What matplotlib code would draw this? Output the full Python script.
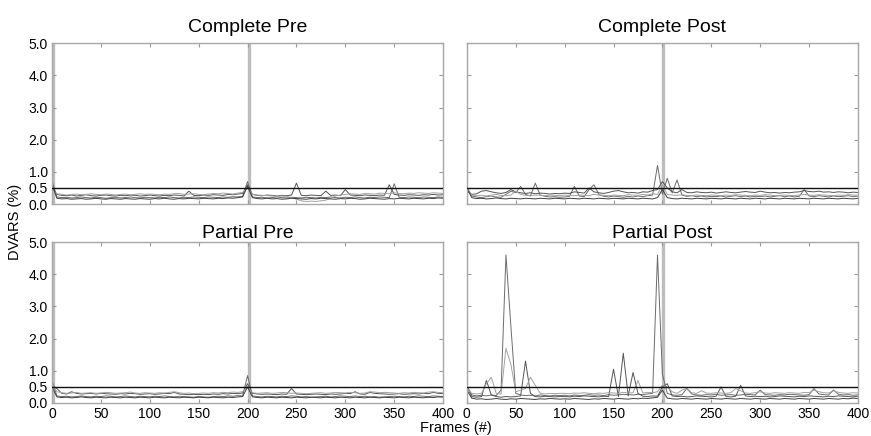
import matplotlib
matplotlib.use("Agg")
import matplotlib.pyplot as plt

# frame index of each sample (every 5th frame of the 400-frame scan)
frames = list(range(0, 401, 5))

# DVARS (%) per subject
complete_pre = [
    [0.72, 0.22, 0.2, 0.21, 0.19, 0.2, 0.22, 0.2, 0.19, 0.21, 0.2, 0.18, 0.2, 0.21, 0.19, 0.2, 0.22, 0.2, 0.19, 0.21,
     0.2, 0.19, 0.21, 0.2, 0.22, 0.2, 0.19, 0.21, 0.2, 0.22, 0.21, 0.2, 0.22, 0.21, 0.2, 0.22, 0.21, 0.23, 0.22, 0.24,
     0.7, 0.22, 0.2, 0.21, 0.19, 0.2, 0.22, 0.2, 0.19, 0.21, 0.2, 0.19, 0.21, 0.2, 0.19, 0.21, 0.2, 0.22, 0.2, 0.19,
     0.21, 0.2, 0.22, 0.2, 0.19, 0.21, 0.2, 0.22, 0.21, 0.2, 0.63, 0.21, 0.2, 0.22, 0.21, 0.2, 0.22, 0.21, 0.2, 0.22, 0.21],
    [0.55, 0.3, 0.27, 0.26, 0.28, 0.25, 0.27, 0.29, 0.26, 0.25, 0.27, 0.28, 0.26, 0.25, 0.27, 0.26, 0.28, 0.27, 0.25, 0.26,
     0.28, 0.26, 0.25, 0.27, 0.26, 0.28, 0.27, 0.25, 0.4, 0.27, 0.26, 0.28, 0.27, 0.29, 0.28, 0.27, 0.3, 0.29, 0.31, 0.33,
     0.6, 0.3, 0.27, 0.26, 0.28, 0.27, 0.25, 0.27, 0.26, 0.28, 0.65, 0.27, 0.26, 0.28, 0.27, 0.26, 0.4, 0.27, 0.28, 0.26,
     0.45, 0.28, 0.27, 0.26, 0.28, 0.27, 0.26, 0.28, 0.27, 0.6, 0.3, 0.28, 0.27, 0.29, 0.28, 0.27, 0.29, 0.28, 0.3, 0.28, 0.29],
    [0.45, 0.32, 0.3, 0.28, 0.3, 0.31, 0.29, 0.3, 0.32, 0.3, 0.29, 0.31, 0.3, 0.28, 0.3, 0.31, 0.29, 0.3, 0.32, 0.3,
     0.31, 0.3, 0.29, 0.31, 0.3, 0.32, 0.33, 0.3, 0.31, 0.32, 0.3, 0.29, 0.31, 0.33, 0.32, 0.34, 0.33, 0.31, 0.34, 0.36,
     0.5, 0.3, 0.28, 0.27, 0.26, 0.25, 0.24, 0.25, 0.24, 0.2, 0.15, 0.1, 0.08, 0.09, 0.08, 0.1, 0.12, 0.18, 0.25, 0.28,
     0.3, 0.32, 0.31, 0.3, 0.33, 0.32, 0.31, 0.34, 0.33, 0.32, 0.35, 0.33, 0.32, 0.34, 0.33, 0.35, 0.34, 0.33, 0.35, 0.34, 0.33],
    [0.6, 0.18, 0.16, 0.17, 0.15, 0.16, 0.17, 0.15, 0.16, 0.18, 0.16, 0.15, 0.17, 0.16, 0.15, 0.17, 0.16, 0.15, 0.17, 0.16,
     0.15, 0.17, 0.16, 0.18, 0.16, 0.15, 0.17, 0.16, 0.18, 0.17, 0.16, 0.18, 0.17, 0.16, 0.18, 0.17, 0.19, 0.18, 0.2, 0.22,
     0.55, 0.2, 0.17, 0.16, 0.18, 0.16, 0.17, 0.15, 0.16, 0.18, 0.17, 0.16, 0.15, 0.17, 0.16, 0.18, 0.17, 0.16, 0.15, 0.17,
     0.16, 0.18, 0.17, 0.15, 0.16, 0.18, 0.17, 0.16, 0.15, 0.17, 0.16, 0.18, 0.17, 0.16, 0.18, 0.17, 0.16, 0.18, 0.17, 0.19, 0.18],
]

complete_post = [
    [0.55, 0.25, 0.22, 0.2, 0.23, 0.25, 0.22, 0.21, 0.3, 0.4, 0.35, 0.55, 0.3, 0.25, 0.65, 0.28, 0.24, 0.22, 0.23, 0.21,
     0.22, 0.24, 0.55, 0.25, 0.23, 0.45, 0.6, 0.3, 0.24, 0.22, 0.25, 0.23, 0.21, 0.24, 0.22, 0.25, 0.23, 0.26, 0.28, 1.2,
     0.3, 0.8, 0.35, 0.75, 0.28, 0.24, 0.26, 0.23, 0.25, 0.22, 0.24, 0.23, 0.25, 0.22, 0.24, 0.26, 0.23, 0.25, 0.22, 0.24,
     0.23, 0.25, 0.22, 0.24, 0.26, 0.23, 0.25, 0.22, 0.24, 0.45, 0.25, 0.23, 0.26, 0.24, 0.22, 0.25, 0.23, 0.24, 0.26, 0.23, 0.25],
    [0.4, 0.3, 0.32, 0.4, 0.42, 0.38, 0.35, 0.33, 0.36, 0.45, 0.38, 0.35, 0.33, 0.35, 0.32, 0.34, 0.33, 0.31, 0.33, 0.32,
     0.34, 0.33, 0.38, 0.36, 0.34, 0.5, 0.38, 0.35, 0.33, 0.36, 0.4, 0.42, 0.38, 0.35, 0.36, 0.34, 0.38, 0.37, 0.42, 0.45,
     0.7, 0.5, 0.38, 0.35, 0.45, 0.36, 0.35, 0.38, 0.36, 0.35, 0.37, 0.34, 0.36, 0.38, 0.36, 0.35, 0.37, 0.39, 0.37, 0.36,
     0.4, 0.37, 0.35, 0.36, 0.34, 0.36, 0.35, 0.37, 0.38, 0.42, 0.39, 0.38, 0.4, 0.37, 0.38, 0.36, 0.38, 0.37, 0.35, 0.37, 0.36],
    [0.5, 0.28, 0.26, 0.27, 0.25, 0.28, 0.3, 0.27, 0.26, 0.28, 0.4, 0.3, 0.27, 0.26, 0.28, 0.27, 0.26, 0.28, 0.27, 0.26,
     0.28, 0.27, 0.26, 0.28, 0.27, 0.26, 0.3, 0.28, 0.27, 0.26, 0.28, 0.27, 0.26, 0.29, 0.28, 0.27, 0.3, 0.28, 0.32, 0.3,
     0.6, 0.3, 0.28, 0.27, 0.29, 0.27, 0.26, 0.28, 0.27, 0.26, 0.28, 0.27, 0.26, 0.28, 0.27, 0.29, 0.28, 0.27, 0.26, 0.28,
     0.27, 0.29, 0.28, 0.26, 0.27, 0.28, 0.27, 0.26, 0.28, 0.3, 0.28, 0.27, 0.29, 0.28, 0.27, 0.26, 0.28, 0.27, 0.29, 0.28, 0.27],
    [0.5, 0.2, 0.17, 0.18, 0.16, 0.17, 0.19, 0.17, 0.16, 0.18, 0.17, 0.16, 0.18, 0.17, 0.16, 0.18, 0.17, 0.16, 0.18, 0.17,
     0.16, 0.18, 0.17, 0.16, 0.18, 0.17, 0.16, 0.18, 0.17, 0.16, 0.18, 0.17, 0.16, 0.18, 0.17, 0.16, 0.18, 0.17, 0.16, 0.2,
     0.45, 0.2, 0.17, 0.16, 0.18, 0.17, 0.16, 0.18, 0.17, 0.16, 0.18, 0.17, 0.16, 0.18, 0.17, 0.16, 0.18, 0.17, 0.16, 0.18,
     0.17, 0.16, 0.18, 0.17, 0.16, 0.18, 0.17, 0.16, 0.18, 0.17, 0.16, 0.18, 0.17, 0.16, 0.18, 0.17, 0.16, 0.18, 0.17, 0.16, 0.18],
]

partial_pre = [
    [0.7, 0.22, 0.2, 0.21, 0.19, 0.2, 0.22, 0.2, 0.19, 0.21, 0.2, 0.22, 0.21, 0.19, 0.2, 0.22, 0.2, 0.19, 0.21, 0.2,
     0.19, 0.21, 0.2, 0.22, 0.2, 0.19, 0.21, 0.2, 0.19, 0.18, 0.2, 0.19, 0.18, 0.2, 0.21, 0.2, 0.22, 0.21, 0.23, 0.22,
     0.85, 0.22, 0.2, 0.19, 0.21, 0.2, 0.19, 0.21, 0.2, 0.22, 0.21, 0.19, 0.2, 0.18, 0.19, 0.2, 0.21, 0.19, 0.2, 0.22,
     0.21, 0.2, 0.22, 0.2, 0.21, 0.19, 0.2, 0.18, 0.19, 0.2, 0.21, 0.2, 0.19, 0.21, 0.2, 0.22, 0.21, 0.2, 0.22, 0.21, 0.2],
    [0.55, 0.45, 0.3, 0.28, 0.35, 0.3, 0.28, 0.29, 0.3, 0.28, 0.3, 0.29, 0.28, 0.27, 0.29, 0.28, 0.3, 0.29, 0.27, 0.28,
     0.29, 0.27, 0.28, 0.3, 0.29, 0.33, 0.28, 0.27, 0.26, 0.27, 0.26, 0.27, 0.26, 0.28, 0.27, 0.29, 0.28, 0.3, 0.29, 0.31,
     0.6, 0.3, 0.28, 0.27, 0.28, 0.27, 0.26, 0.28, 0.27, 0.45, 0.28, 0.27, 0.26, 0.27, 0.28, 0.27, 0.26, 0.28, 0.27, 0.28,
     0.3, 0.29, 0.35, 0.28, 0.27, 0.33, 0.3, 0.29, 0.28, 0.27, 0.28, 0.29, 0.27, 0.28, 0.29, 0.28, 0.3, 0.29, 0.33, 0.3, 0.29],
    [0.6, 0.35, 0.32, 0.3, 0.31, 0.33, 0.3, 0.31, 0.32, 0.3, 0.31, 0.33, 0.32, 0.3, 0.31, 0.32, 0.34, 0.31, 0.3, 0.32,
     0.31, 0.3, 0.32, 0.31, 0.33, 0.35, 0.32, 0.3, 0.31, 0.29, 0.3, 0.31, 0.3, 0.32, 0.31, 0.33, 0.32, 0.34, 0.33, 0.35,
     0.5, 0.32, 0.3, 0.31, 0.32, 0.3, 0.31, 0.33, 0.32, 0.3, 0.31, 0.3, 0.29, 0.3, 0.31, 0.32, 0.3, 0.31, 0.33, 0.32,
     0.31, 0.33, 0.32, 0.3, 0.31, 0.35, 0.34, 0.32, 0.33, 0.32, 0.31, 0.3, 0.32, 0.31, 0.33, 0.32, 0.31, 0.34, 0.35, 0.33, 0.32],
    [0.5, 0.19, 0.17, 0.18, 0.16, 0.17, 0.19, 0.17, 0.16, 0.18, 0.17, 0.16, 0.18, 0.17, 0.16, 0.18, 0.17, 0.16, 0.18, 0.17,
     0.16, 0.18, 0.17, 0.16, 0.18, 0.17, 0.16, 0.18, 0.17, 0.16, 0.18, 0.17, 0.16, 0.18, 0.17, 0.16, 0.18, 0.17, 0.19, 0.2,
     0.5, 0.19, 0.17, 0.16, 0.18, 0.17, 0.16, 0.18, 0.17, 0.16, 0.18, 0.17, 0.16, 0.18, 0.17, 0.16, 0.18, 0.17, 0.16, 0.18,
     0.17, 0.16, 0.18, 0.17, 0.16, 0.18, 0.17, 0.16, 0.18, 0.17, 0.16, 0.18, 0.17, 0.16, 0.18, 0.17, 0.16, 0.18, 0.17, 0.19, 0.18],
]

partial_post = [
    [0.55, 0.25, 0.22, 0.24, 0.22, 0.25, 0.23, 0.4, 4.6, 2.4, 0.3, 0.25, 0.23, 0.24, 0.22, 0.25, 0.23, 0.22, 0.24, 0.23,
     0.24, 0.22, 0.25, 0.23, 0.24, 0.26, 0.24, 0.25, 0.23, 0.26, 0.24, 0.25, 0.27, 0.26, 0.25, 0.27, 0.26, 0.28, 0.3, 4.6,
     0.9, 0.3, 0.25, 0.24, 0.26, 0.45, 0.28, 0.25, 0.24, 0.26, 0.25, 0.27, 0.24, 0.25, 0.26, 0.24, 0.25, 0.27, 0.26, 0.25,
     0.4, 0.26, 0.25, 0.24, 0.26, 0.25, 0.27, 0.26, 0.25, 0.24, 0.26, 0.45, 0.28, 0.26, 0.25, 0.4, 0.27, 0.25, 0.26, 0.24, 0.25],
    [0.5, 0.2, 0.18, 0.2, 0.7, 0.25, 0.2, 0.18, 0.2, 0.19, 0.2, 0.22, 1.3, 0.3, 0.2, 0.19, 0.21, 0.2, 0.19, 0.2,
     0.2, 0.19, 0.21, 0.2, 0.22, 0.21, 0.2, 0.19, 0.21, 0.2, 1.05, 0.2, 1.55, 0.22, 0.95, 0.3, 0.21, 0.2, 0.22, 0.21,
     0.5, 0.6, 0.22, 0.2, 0.21, 0.19, 0.2, 0.22, 0.21, 0.2, 0.19, 0.21, 0.5, 0.2, 0.19, 0.21, 0.55, 0.22, 0.2, 0.21,
     0.2, 0.21, 0.19, 0.2, 0.22, 0.21, 0.2, 0.19, 0.21, 0.2, 0.22, 0.21, 0.2, 0.19, 0.21, 0.2, 0.22, 0.21, 0.2, 0.19, 0.21],
    [0.45, 0.3, 0.28, 0.3, 0.6, 0.8, 0.3, 0.28, 1.7, 1.2, 0.35, 0.4, 0.45, 0.8, 0.55, 0.3, 0.28, 0.3, 0.29, 0.3,
     0.3, 0.29, 0.31, 0.3, 0.32, 0.3, 0.29, 0.31, 0.3, 0.32, 0.31, 0.3, 0.33, 0.31, 0.32, 0.7, 0.31, 0.33, 0.32, 0.35,
     0.55, 0.5, 0.35, 0.3, 0.4, 0.45, 0.32, 0.3, 0.38, 0.31, 0.3, 0.32, 0.31, 0.3, 0.32, 0.45, 0.38, 0.31, 0.3, 0.32,
     0.35, 0.31, 0.3, 0.32, 0.31, 0.3, 0.32, 0.31, 0.3, 0.33, 0.32, 0.4, 0.35, 0.32, 0.31, 0.38, 0.33, 0.31, 0.3, 0.32, 0.31],
    [0.4, 0.15, 0.12, 0.13, 0.11, 0.12, 0.14, 0.12, 0.11, 0.13, 0.12, 0.14, 0.13, 0.12, 0.11, 0.13, 0.12, 0.14, 0.13, 0.12,
     0.13, 0.12, 0.14, 0.13, 0.12, 0.11, 0.13, 0.12, 0.14, 0.13, 0.12, 0.14, 0.13, 0.12, 0.14, 0.13, 0.15, 0.14, 0.16, 0.18,
     0.4, 0.15, 0.13, 0.12, 0.14, 0.13, 0.12, 0.14, 0.13, 0.12, 0.14, 0.13, 0.12, 0.14, 0.13, 0.12, 0.14, 0.13, 0.12, 0.14,
     0.13, 0.12, 0.14, 0.13, 0.12, 0.14, 0.13, 0.12, 0.14, 0.13, 0.12, 0.14, 0.13, 0.12, 0.14, 0.13, 0.12, 0.14, 0.13, 0.15, 0.14],
]

threshold = 0.5
y_ticks = [0.0, 0.5, 1.0, 2.0, 3.0, 4.0, 5.0]
x_ticks = [0, 50, 100, 150, 200, 250, 300, 350, 400]

line_colors = ["#6c6c6c", "#555555", "#a2a2a2", "#3e3e3e"]


def draw_panel(ax, series, title, run_starts, title_pad, show_x, show_y):
    for x in run_starts:
        ax.axvline(x, color="#bdbdbd", lw=2.4, zorder=1)
    for values, color in zip(series, line_colors):
        if len(values) != len(frames):
            raise ValueError(f"{title}: {len(values)} values")
        ax.plot(frames, values, color=color, lw=0.7, zorder=2)
    ax.axhline(threshold, color="#111111", lw=1.0, zorder=3)

    ax.set_xlim(0, 400)
    ax.set_ylim(0, 5)
    ax.set_xticks(x_ticks)
    ax.set_yticks(y_ticks)
    ax.set_yticklabels([f"{v:.1f}" for v in y_ticks])
    ax.tick_params(direction="in", length=3, color="#999999", top=True, right=True,
                   labelsize=10, pad=3, labelbottom=show_x, labelleft=show_y)
    for spine in ax.spines.values():
        spine.set_color("#a8a8a8")
        spine.set_linewidth(1.0)
    ax.set_title(title, fontsize=14, pad=title_pad)


if __name__ == "__main__":
    plt.rcParams["font.family"] = ["Liberation Sans", "DejaVu Sans"]

    fig = plt.figure(figsize=(8.71, 4.36), dpi=100)
    w, h = 0.449, 0.369
    ax1 = fig.add_axes([0.0597, 0.532, w, h])
    ax2 = fig.add_axes([0.536, 0.532, w, h])
    ax3 = fig.add_axes([0.0597, 0.0757, w, h])
    ax4 = fig.add_axes([0.536, 0.0757, w, h])

    draw_panel(ax1, complete_pre, "Complete Pre", [1, 201], 8, False, True)
    draw_panel(ax2, complete_post, "Complete Post", [201], 8, False, False)
    draw_panel(ax3, partial_pre, "Partial Pre", [1, 201], 3, True, True)
    draw_panel(ax4, partial_post, "Partial Post", [201], 3, True, False)

    fig.text(0.017, 0.49, "DVARS (%)", rotation=90, ha="center", va="center", fontsize=10.5)
    fig.text(0.523, 0.018, "Frames (#)", ha="center", va="center", fontsize=10.5)

    fig.savefig("out.png", dpi=100)
